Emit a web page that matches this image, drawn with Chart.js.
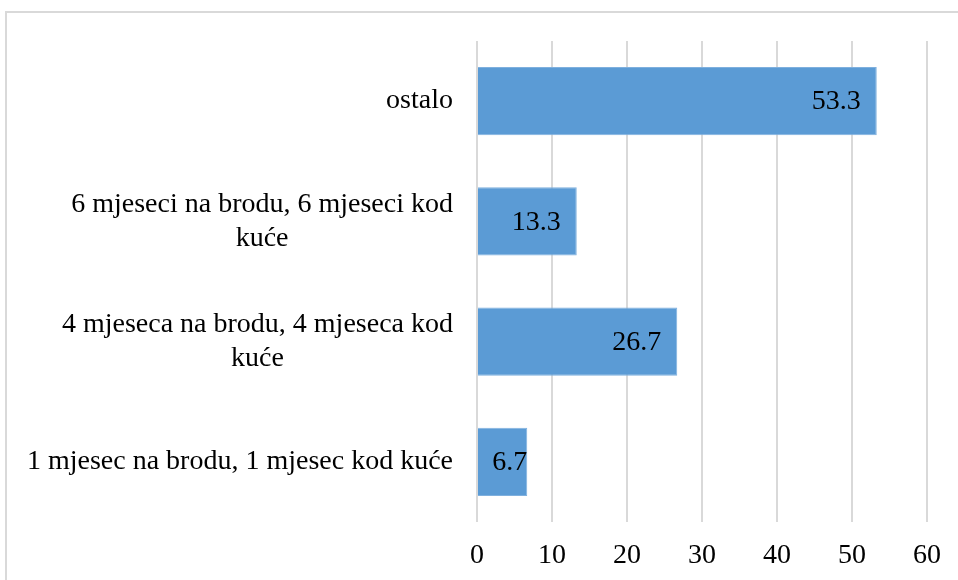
<!DOCTYPE html>
<html>
<head>
<meta charset="utf-8">
<script src="https://cdn.jsdelivr.net/npm/chart.js@4"></script>
<style>
  html, body { margin: 0; padding: 0; background: #fff; }
  #wrap { position: relative; width: 958px; height: 580px; }
</style>
</head>
<body>
<div id="wrap"><canvas id="grafikon" width="958" height="580"></canvas></div>
<script>
// podaci
const kategorije = [
    ['ostalo'],
    ['6 mjeseci na brodu, 6 mjeseci kod', 'kuće'],
    ['4 mjeseca na brodu, 4 mjeseca kod', 'kuće'],
    ['1 mjesec na brodu, 1 mjesec kod kuće']
];
const vrijednosti = [53.3, 13.3, 26.7, 6.7];
const osX = { min: 0, max: 60, korak: 10 };

const FONT = '"Liberation Serif", "Times New Roman", serif';
const VELICINA = 28;

// okvir oko grafikona
const okvirPlugin = {
    id: 'okvir',
    beforeDraw(chart) {
        const ctx = chart.ctx;
        ctx.save();
        ctx.fillStyle = '#fff';
        ctx.fillRect(0, 0, chart.width, chart.height);
        ctx.strokeStyle = '#d9d9d9';
        ctx.lineWidth = 2;
        ctx.strokeRect(6, 12, 2000, 2000);
        ctx.restore();
    }
};

// nazivi kategorija (linije centrirane unutar bloka, blok poravnat desno)
const naziviPlugin = {
    id: 'nazivi',
    afterDraw(chart) {
        const ctx = chart.ctx;
        const y = chart.scales.y;
        const desno = 453;
        const visinaLinije = 34;
        ctx.save();
        ctx.font = `${VELICINA}px ${FONT}`;
        ctx.fillStyle = '#000';
        ctx.textAlign = 'center';
        ctx.textBaseline = 'middle';
        kategorije.forEach((linije, i) => {
            const sredina = y.getPixelForValue(i);
            const maxW = Math.max(...linije.map(l => ctx.measureText(l).width));
            const cx = desno - maxW / 2;
            const pocetak = sredina - (linije.length - 1) * visinaLinije / 2;
            linije.forEach((l, j) => ctx.fillText(l, cx, pocetak + j * visinaLinije));
        });
        ctx.restore();
    }
};

// oznake vrijednosti unutar kraja stupca
const oznakePlugin = {
    id: 'oznake',
    afterDatasetsDraw(chart) {
        const ctx = chart.ctx;
        const meta = chart.getDatasetMeta(0);
        ctx.save();
        ctx.font = `${VELICINA}px ${FONT}`;
        ctx.fillStyle = '#000';
        ctx.textAlign = 'right';
        ctx.textBaseline = 'middle';
        meta.data.forEach((bar, i) => {
            const tekst = vrijednosti[i].toFixed(1);
            const w = ctx.measureText(tekst).width;
            const sirina = bar.x - bar.base;
            const pad = sirina < w + 32 ? 0 : 16;
            ctx.fillText(tekst, bar.x - pad, bar.y + 1);
        });
        ctx.restore();
    }
};

new Chart(document.getElementById('grafikon'), {
    type: 'bar',
    data: {
        labels: kategorije.map(k => k.join(' ')),
        datasets: [{
            data: vrijednosti,
            backgroundColor: '#5b9bd5',
            borderColor: '#7fb0de',
            borderWidth: 1,
            categoryPercentage: 1,
            barPercentage: 0.567
        }]
    },
    options: {
        indexAxis: 'y',
        responsive: false,
        animation: false,
        layout: { padding: { left: 477, right: 31, top: 41, bottom: 0 } },
        plugins: { legend: { display: false }, tooltip: { enabled: false } },
        scales: {
            x: {
                min: osX.min,
                max: osX.max,
                afterFit(scale) { scale.height = 58; },
                ticks: {
                    stepSize: osX.korak,
                    color: '#000',
                    padding: 17,
                    maxRotation: 0,
                    font: { family: FONT, size: VELICINA }
                },
                grid: { color: '#d9d9d9', lineWidth: 2, drawTicks: false },
                border: { display: false }
            },
            y: {
                afterFit(scale) { scale.width = 0; },
                ticks: { display: false },
                grid: { display: false },
                border: { display: false }
            }
        }
    },
    plugins: [okvirPlugin, naziviPlugin, oznakePlugin]
});
</script>
</body>
</html>
